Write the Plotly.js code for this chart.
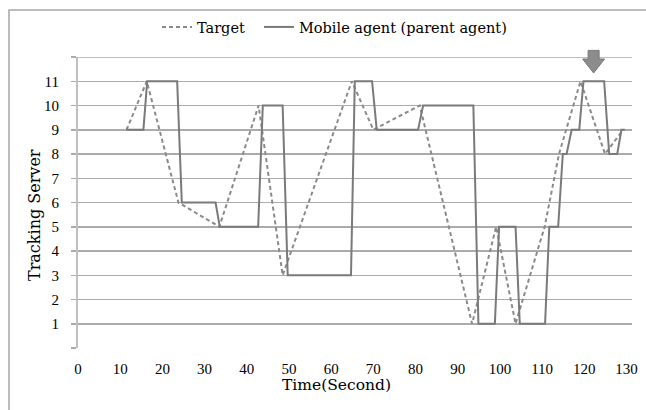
<!DOCTYPE html>
<html>
<head>
<meta charset="utf-8">
<script src="https://cdn.plot.ly/plotly-3.0.1.min.js"></script>
<style>html,body{margin:0;padding:0;background:#fff;}#chart{width:646px;height:410px;}</style>
</head>
<body>
<div id="chart"></div>
<script>
// Target trajectory (time in seconds, tracking server id)
var targetTime  = [11.5, 16.3, 23.8, 33.5, 42.8, 48.5, 64.9, 70.0, 81.0, 93.4, 99.1, 103.7, 110.6, 114.0, 119.1, 124.9, 129.2];
var targetLevel = [9, 11, 6, 5, 10, 3, 11, 9, 10, 1, 5, 1, 5, 8, 11, 8, 9];

// Mobile agent (parent agent)
var agentTime  = [11.5, 15.5, 16.4, 23.5, 24.6, 32.6, 33.6, 42.7, 43.8, 48.5, 49.7, 64.7, 65.6, 69.7, 70.8, 80.6, 81.8, 93.7, 94.9, 98.8, 99.8, 103.7, 104.7, 110.7, 111.7, 113.8, 114.9, 115.8, 117.0, 118.8, 119.8, 124.7, 125.9, 127.8, 128.8, 129.6];
var agentLevel = [9, 9, 11, 11, 6, 6, 5, 5, 10, 10, 3, 3, 11, 11, 9, 9, 10, 10, 1, 1, 5, 5, 1, 1, 5, 5, 8, 8, 9, 9, 11, 11, 8, 8, 9, 9];

var xTicks = [0,10,20,30,40,50,60,70,80,90,100,110,120,130];
var yTicks = [1,2,3,4,5,6,7,8,9,10,11];
var yGrid = [0,1,2,3,4,5,6,7,8,9,10,11,12];

// highlighted moment (arrow marker)
var arrowTime = 122.2;

var xMax = 131.3, yMax = 12;
var serif = "Liberation Serif, Times New Roman, serif";
var wide = "DejaVu Serif, Liberation Serif, serif";

var traces = [
  {x: targetTime, y: targetLevel, name: "Target", mode: "lines", legend: "legend",
   line: {color: "#8a8a8a", width: 2, dash: "4px,3px"}},
  {x: agentTime, y: agentLevel, name: "Mobile agent (parent agent)", mode: "lines", legend: "legend2",
   line: {color: "#7a7a7a", width: 2}}
];

// block arrow in paper coords
var ax = arrowTime / xMax;
var pw = 554, ph = 291;
function px(dx){ return ax + dx / pw; }
function py(dy){ return 1 + dy / ph; } // dy positive = above top
var arrowPath = "M " + px(-5.5) + " " + py(6.6) +
  " L " + px(5.5) + " " + py(6.6) +
  " L " + px(5.5) + " " + py(-2) +
  " L " + px(11) + " " + py(-2) +
  " L " + px(0) + " " + py(-16) +
  " L " + px(-11) + " " + py(-2) +
  " L " + px(-5.5) + " " + py(-2) + " Z";

function legendAt(xpx) {
  return {orientation: "h", x: xpx / 646, xref: "container", xanchor: "left",
          y: 1 - 27 / 410, yref: "container", yanchor: "middle",
          font: {family: wide, size: 14.5, color: "#000"}, itemwidth: 30,
          bgcolor: "rgba(0,0,0,0)"};
}

var layout = {
  width: 646, height: 410,
  margin: {l: 78, r: 14, t: 57, b: 62, autoexpand: false},
  paper_bgcolor: "#ffffff", plot_bgcolor: "#ffffff",
  font: {family: serif, size: 14, color: "#000"},
  showlegend: true,
  legend: legendAt(157),
  legend2: legendAt(259),
  xaxis: {range: [0, xMax], tickmode: "array", tickvals: xTicks, ticktext: xTicks.map(String),
          showgrid: false, zeroline: false, showline: false, ticks: "",
          tickfont: {family: serif, size: 15, color: "#000"}, ticklabelstandoff: 10},
  yaxis: {range: [0, yMax], tickmode: "array", tickvals: yGrid,
          ticktext: yGrid.map(function(v){ return yTicks.indexOf(v) >= 0 ? String(v) : ""; }),
          showgrid: true, gridcolor: "#ababab", gridwidth: 1.5, zeroline: false,
          showline: true, linecolor: "#c0c0c0", linewidth: 2,
          ticks: "outside", ticklen: 5, tickcolor: "#ababab", tickwidth: 1.5,
          tickfont: {family: serif, size: 15, color: "#000"}, ticklabelstandoff: 9},
  annotations: [
    {text: "Time(Second)", xref: "paper", yref: "paper", x: (336 - 78) / 554, y: -37 / 291,
     xanchor: "center", yanchor: "middle", showarrow: false, font: {family: wide, size: 15.5, color: "#000"}},
    {text: "Tracking Server", xref: "paper", yref: "paper", x: (34 - 78) / 554, y: (348 - 215) / 291,
     xanchor: "center", yanchor: "middle", showarrow: false, textangle: -90,
     font: {family: wide, size: 16, color: "#000"}}
  ],
  shapes: [
    {type: "rect", xref: "paper", yref: "paper", x0: -69 / 554, x1: 1.2, y0: -0.3, y1: 1 + 47 / 291,
     line: {color: "#a6a6a6", width: 1.5}, fillcolor: "rgba(0,0,0,0)", layer: "below"},
    {type: "line", xref: "paper", yref: "y", x0: 0, x1: 1, y0: yMax, y1: yMax,
     line: {color: "#ababab", width: 1.5}, layer: "below"},
    {type: "path", xref: "paper", yref: "paper", path: arrowPath,
     fillcolor: "#8c8c8c", line: {color: "#7a7a7a", width: 1}}
  ]
};

Plotly.newPlot("chart", traces, layout, {displayModeBar: false, staticPlot: true});
</script>
</body>
</html>
